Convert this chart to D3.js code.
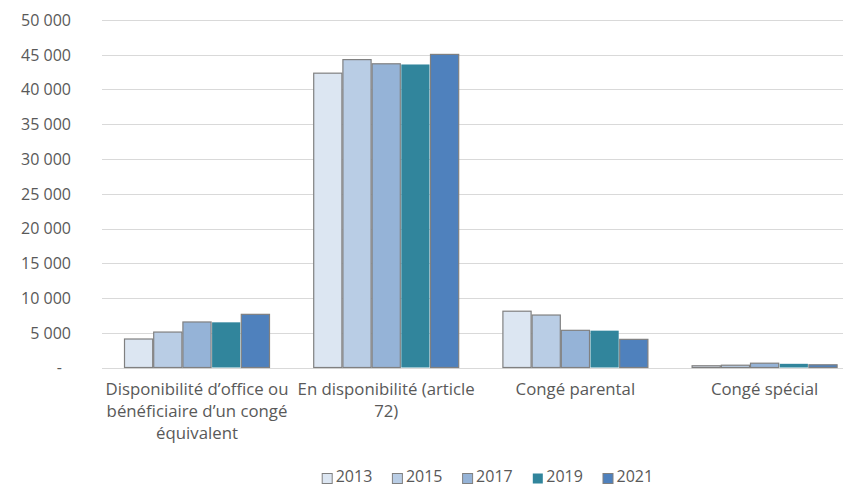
<!DOCTYPE html>
<html><head><meta charset="utf-8">
<script src="https://cdn.jsdelivr.net/npm/d3@7"></script>
<style>body{margin:0;background:#fff}svg{display:block}text{font-family:"Open Sans",Lato,sans-serif;fill:#595959}</style>
</head><body><svg id="c" width="843" height="487"></svg>
<script>
const categories = ["Disponibilité d’office ou\nbénéficiaire d’un congé\néquivalent", "En disponibilité (article\n72)", "Congé parental", "Congé spécial"];
const years = ["2013", "2015", "2017", "2019", "2021"];
const v2013 = [4100, 42350, 8100, 250];
const v2015 = [5100, 44300, 7550, 330];
const v2017 = [6550, 43700, 5350, 620];
const v2019 = [6500, 43600, 5300, 530];
const v2021 = [7650, 45050, 4050, 390];
const yTicks = [0, 5000, 10000, 15000, 20000, 25000, 30000, 35000, 40000, 45000, 50000];
const colors = ["#dce6f2", "#b9cde5", "#95b3d7", "#31859c", "#4f81bd"];
const strokes = ["#808080", "#808080", "#808080", "none", "#808080"];
const series = [v2013, v2015, v2017, v2019, v2021];

const svg = d3.select("#c");
const y = d3.scaleLinear().domain([0, 50000]).range([367.5, 20]);
const x0 = d3.scaleBand().domain(categories).range([102.4, 859.2]);
const x1 = d3.scaleBand().domain(years).range([0, x0.bandwidth()]).paddingInner(0).paddingOuter(0.74);
const fmt = v => v === 0 ? "-" : d3.format(",")(v).replace(/,/g, " ");

// gridlines
svg.append("g").selectAll("line").data(yTicks).join("line")
  .attr("x1", 102).attr("x2", 843)
  .attr("y1", d => Math.round(y(d)) + 0.5).attr("y2", d => Math.round(y(d)) + 0.5)
  .attr("stroke", "#d9d9d9").attr("stroke-width", 1);

// y labels
svg.append("g").selectAll("text").data(yTicks).join("text")
  .attr("x", d => d === 0 ? 62 : 71).attr("y", d => y(d)).attr("dy", "0.36em")
  .attr("text-anchor", "end").style("font-size", "16px").text(fmt);

// bars
const g = svg.append("g").selectAll("g").data(categories).join("g")
  .attr("transform", d => `translate(${x0(d)},0)`);
g.selectAll("rect").data((c, ci) => years.map((yr, si) => ({yr, si, v: series[si][ci]}))).join("rect")
  .attr("x", d => x1(d.yr) + 0.5).attr("width", x1.bandwidth() - 1)
  .attr("y", d => y(d.v)).attr("height", d => y(0) - y(d.v))
  .attr("fill", d => colors[d.si]).attr("stroke", d => strokes[d.si]).attr("stroke-width", 1.2);

// x labels
svg.append("g").selectAll("text").data(categories).join("text")
  .attr("text-anchor", "middle").style("font-size", "16.8px")
  .each(function(d) {
    const t = d3.select(this);
    d.split("\n").forEach((line, i) => {
      t.append("tspan").attr("x", x0(d) + x0.bandwidth() / 2).attr("y", 389 + i * 22.2).attr("dy", "0.36em").text(line);
    });
  });

// legend
const lg = svg.append("g").selectAll("g").data(years).join("g")
  .attr("transform", (d, i) => `translate(${321.7 + i * 70.2},476.5)`);
lg.append("rect").attr("x", 0.5).attr("y", -3).attr("width", 10).attr("height", 10)
  .attr("fill", (d, i) => colors[i]).attr("stroke", (d, i) => strokes[i]).attr("stroke-width", 1);
lg.append("text").attr("x", 14).attr("y", 0).attr("dy", "0.36em").style("font-size", "16px").text(d => d);
</script></body></html>
